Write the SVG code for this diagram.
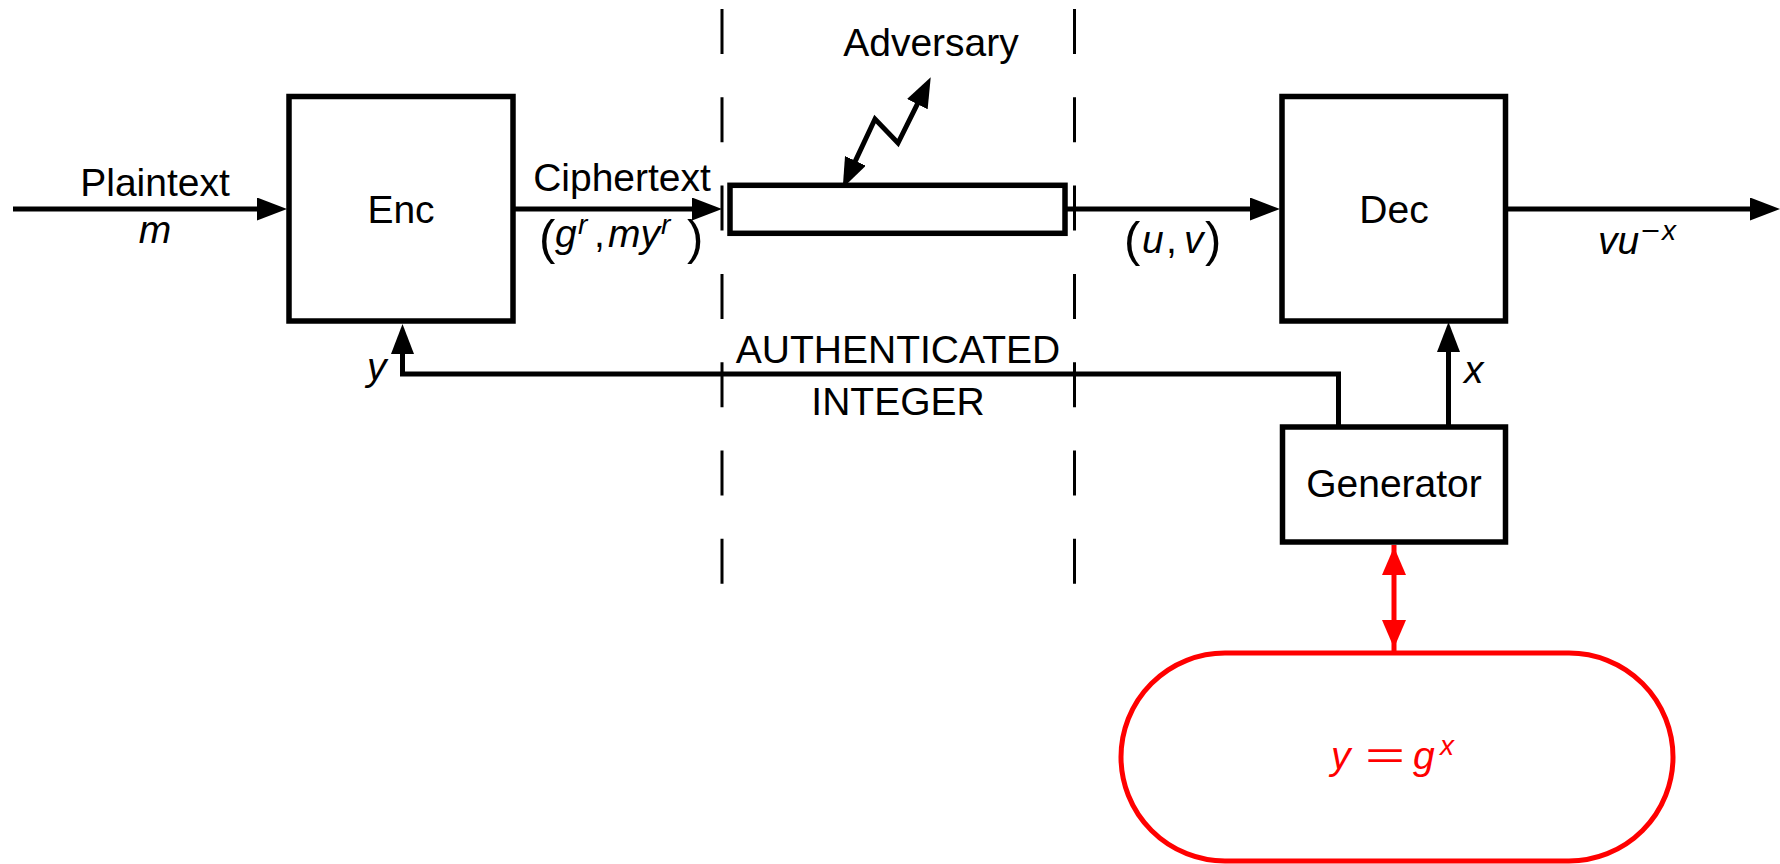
<svg xmlns="http://www.w3.org/2000/svg" width="1780" height="864" viewBox="0 0 1780 864">
<style>
  .box { fill: #ffffff; stroke: #000000; stroke-width: 5.5; }
  .ln { fill: none; stroke: #000000; stroke-width: 5; }
  .arr { marker-end: url(#ah); }
  .dash { fill: none; stroke: #000000; stroke-width: 3; stroke-dasharray: 45 43.3; }
  .red { fill: none; stroke: #ff0000; stroke-width: 5; }
  .t { font-family: "Liberation Sans", Arial, Helvetica, sans-serif; font-size: 39px; fill: #000000; }
  .c { text-anchor: middle; }
  .i { font-style: italic; }
  .sup { font-size: 28px; }
  .par { font-size: 49px; font-style: normal; }
  .rt { fill: #ff0000; }
</style>
<defs>
  <marker id="ah" markerUnits="userSpaceOnUse" markerWidth="30" markerHeight="23" refX="10" refY="11.5" orient="auto-start-reverse">
    <path d="M0,0 L30,11.5 L0,23 z" fill="#000000"/>
  </marker>
  <path id="redhead" d="M-12,0 L0,-28 L12,0 z" fill="#ff0000"/>
</defs>

<g id="boundaries">
  <line class="dash" x1="722" y1="9" x2="722" y2="586"/>
  <line class="dash" x1="1074.5" y1="9" x2="1074.5" y2="586"/>
</g>

<g id="connectors">
  <path class="ln arr" d="M13,209 H267"/>
  <path class="ln arr" d="M513,209 H702"/>
  <path class="ln arr" d="M1065,209 H1260"/>
  <path class="ln arr" d="M1505,209 H1760"/>
  <path class="ln arr" d="M1338.5,427 V374 H402.5 V344"/>
  <path class="ln arr" d="M1448.5,427 V342"/>
  <path class="ln" d="M851.2,169.9 L875,119 L898,143 L921.8,95.2" style="marker-start:url(#ah);marker-end:url(#ah)"/>
  <line class="red" x1="1394" y1="545" x2="1394" y2="653"/>
  <use href="#redhead" transform="translate(1394,575)"/>
  <use href="#redhead" transform="translate(1394,620) rotate(180)"/>
</g>

<g id="labels">
  <text class="t c" x="155" y="196">Plaintext</text>
  <text class="t c i" x="155" y="243">m</text>
  <text class="t c" x="622" y="191">Ciphertext</text>
  <text class="t i" y="247"><tspan class="par" x="539" y="254">(</tspan><tspan x="555" y="247">g</tspan><tspan class="sup" x="578" y="234">r</tspan><tspan style="font-style:normal" x="594" y="247">,</tspan><tspan x="608" y="247">my</tspan><tspan class="sup" x="661" y="234">r</tspan><tspan class="par" x="687" y="254">)</tspan></text>
  <text class="t c" x="931" y="56">Adversary</text>
  <text class="t i" y="253"><tspan class="par" x="1124" y="256">(</tspan><tspan x="1142" y="253">u</tspan><tspan style="font-style:normal" x="1166" y="253">,</tspan><tspan x="1184" y="253">v</tspan><tspan class="par" x="1205" y="256">)</tspan></text>
  <text class="t i" x="1598" y="254">vu</text>
  <text class="t sup" x="1641" y="240" textLength="19" lengthAdjust="spacingAndGlyphs">−</text>
  <text class="t i sup" x="1662" y="240">x</text>
  <text class="t c" x="898" y="363">AUTHENTICATED</text>
  <text class="t c" x="898" y="415">INTEGER</text>
  <text class="t i" x="367" y="380">y</text>
  <text class="t i" x="1464" y="383">x</text>
</g>

<g id="enc">
  <rect class="box" x="289" y="96.5" width="224" height="224.5"/>
  <text class="t c" x="401" y="223">Enc</text>
</g>

<g id="channel">
  <rect class="box" x="730" y="185.3" width="335" height="48"/>
</g>

<g id="dec">
  <rect class="box" x="1282" y="96.5" width="223.5" height="224.5"/>
  <text class="t c" x="1394" y="223">Dec</text>
</g>

<g id="generator">
  <rect class="box" x="1282.5" y="427" width="223" height="115"/>
  <text class="t c" x="1394" y="497">Generator</text>
</g>

<g id="keystore">
  <rect class="red" x="1121" y="653" width="552" height="208" rx="104" ry="104"/>
  <text class="t i rt" x="1331" y="769">y</text>
  <text class="t rt" x="1365" y="769" textLength="40" lengthAdjust="spacingAndGlyphs">=</text>
  <text class="t i rt" x="1413" y="769">g</text>
  <text class="t i rt sup" x="1440" y="755">x</text>
</g>
</svg>
